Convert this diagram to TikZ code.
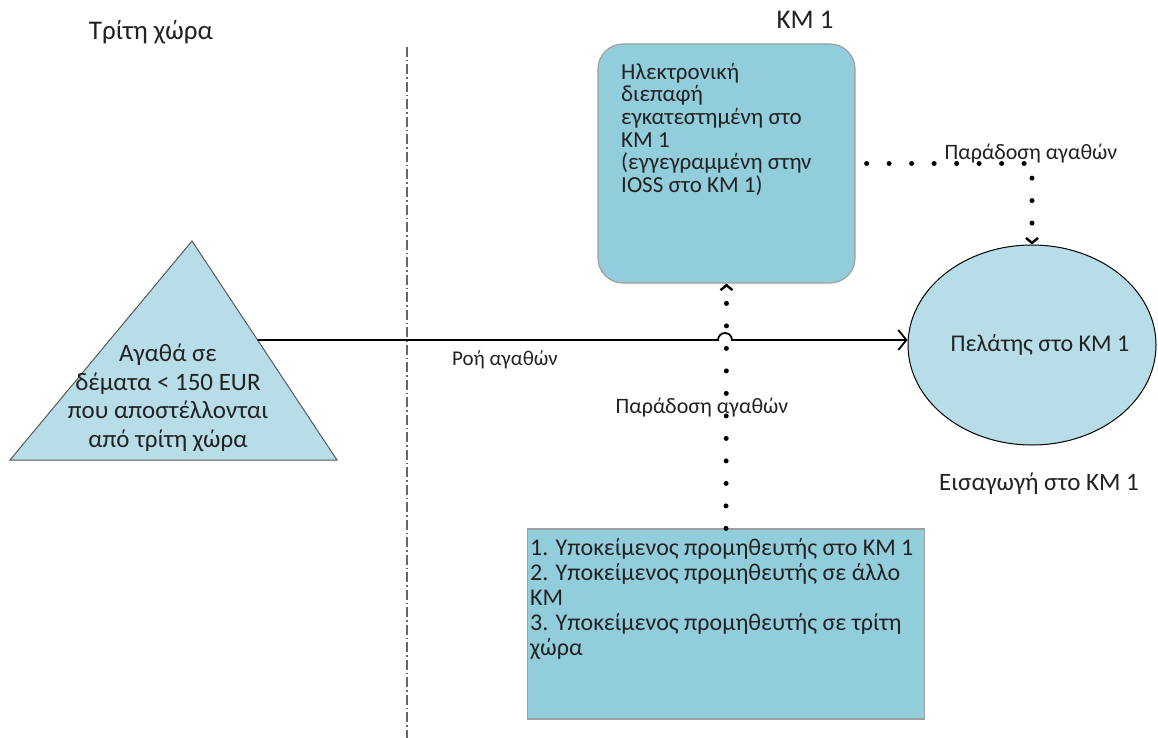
\documentclass[tikz,border=0pt]{standalone}
\usepackage{fontspec}
\setmainfont{Carlito}
\usetikzlibrary{arrows.meta,positioning,shapes.geometric,calc}
\definecolor{boxblue}{HTML}{92CDDC}
\definecolor{paleblue}{HTML}{B7DDE8}
\definecolor{txtgray}{HTML}{222222}

\begin{document}
\begin{tikzpicture}[x = 1pt, y = -1pt, font = \fontsize{22}{24}\selectfont, text = txtgray,
	kmbox/.style = {draw = gray!75, fill = boxblue, line width = 1.2pt, inner sep = 0pt},
	tag/.style = {inner sep = 0pt},
	dots/.style = {line width = 5pt, line cap = round, dash pattern = on 0pt off 22.5pt},
	dotarrow/.style = {dots, -{Straight Barb[length = 5pt, width = 12pt, line width = 2.4pt]}},
	flow/.style = {line width = 1.8pt, -{Straight Barb[length = 8pt, width = 20pt, line width = 1.8pt]}},
	border/.style = {gray!80!black, line width = 1.6pt, dash pattern = on 10pt off 3pt on 1.5pt off 3pt}]
	\useasboundingbox (0,0) rectangle (1158,738);

	% headings
	\node[tag, font = \fontsize{27}{29}\selectfont](third) at (151,32){Τρίτη χώρα};
	\node[tag, font = \fontsize{27}{29}\selectfont](km) at (805,20){ΚΜ 1};
	\coordinate (bordertop) at (407,47);
	\coordinate (borderbot) at (407,738);
	\draw[border] (bordertop) -- (borderbot);

	% goods from the third country
	\coordinate (apex) at (192,241);
	\coordinate (baseL) at (10,460);
	\coordinate (baseR) at (337,460);
	\draw[fill = paleblue, draw = gray!70!black, line width = 1pt] (apex) -- (baseR) -- (baseL) -- cycle;
	\coordinate (flowstart) at ($(apex)!0.452!(baseR)$);
	\node[tag, align = center, font = \fontsize{25}{28.5}\selectfont](goods) at (168,398){Αγαθά σε\\δέματα < 150 EUR\\που αποστέλλονται\\από τρίτη χώρα};

	% platform and suppliers
	\node[kmbox, rounded corners = 25pt, minimum width = 257pt, minimum height = 239pt](platform) at (726.5,163.5){};
	\node[tag, anchor = north west, align = left, font = \fontsize{23}{22.6}\selectfont](platformtext) at (621,63){Ηλεκτρονική\\διεπαφή\\εγκατεστημένη στο\\ΚΜ 1\\(εγγεγραμμένη στην\\IOSS στο ΚΜ 1)};
	\node[kmbox, minimum width = 397pt, minimum height = 190pt](suppliers) at (726,624){};
	\node[tag, anchor = north west, align = left, font = \fontsize{24}{25}\selectfont](supplierstext) at (530,538){1. Υποκείμενος προμηθευτής στο ΚΜ 1\\2. Υποκείμενος προμηθευτής σε άλλο\\ΚΜ\\3. Υποκείμενος προμηθευτής σε τρίτη\\χώρα};

	% customer
	\node[ellipse, draw, fill = paleblue, line width = 1pt, minimum width = 248pt, minimum height = 200pt](client) at (1032,345){};
	\node[tag, font = \fontsize{24}{26}\selectfont](clienttext) at (1040,345){Πελάτης στο ΚΜ 1};
	\node[tag, font = \fontsize{25}{27}\selectfont](import) at (1039,484){Εισαγωγή στο ΚΜ 1};

	% connectors
	\draw[flow] (flowstart) -- (718,340) arc[start angle = 180, end angle = 0, radius = 7pt] -- (client.west |- flowstart);
	\node[tag, font = \fontsize{21}{23}\selectfont](flowlabel) at (505,360){Ροή αγαθών};
	\draw[dotarrow] (suppliers.north) -- (platform.south);
	\node[tag](deliverylow) at (702,408){Παράδοση αγαθών};
	\draw[dotarrow, shorten <= 11pt] (platform.east) -| (client.north);
	\node[tag](deliveryhigh) at (1031,154){Παράδοση αγαθών};

\end{tikzpicture}
\end{document}
